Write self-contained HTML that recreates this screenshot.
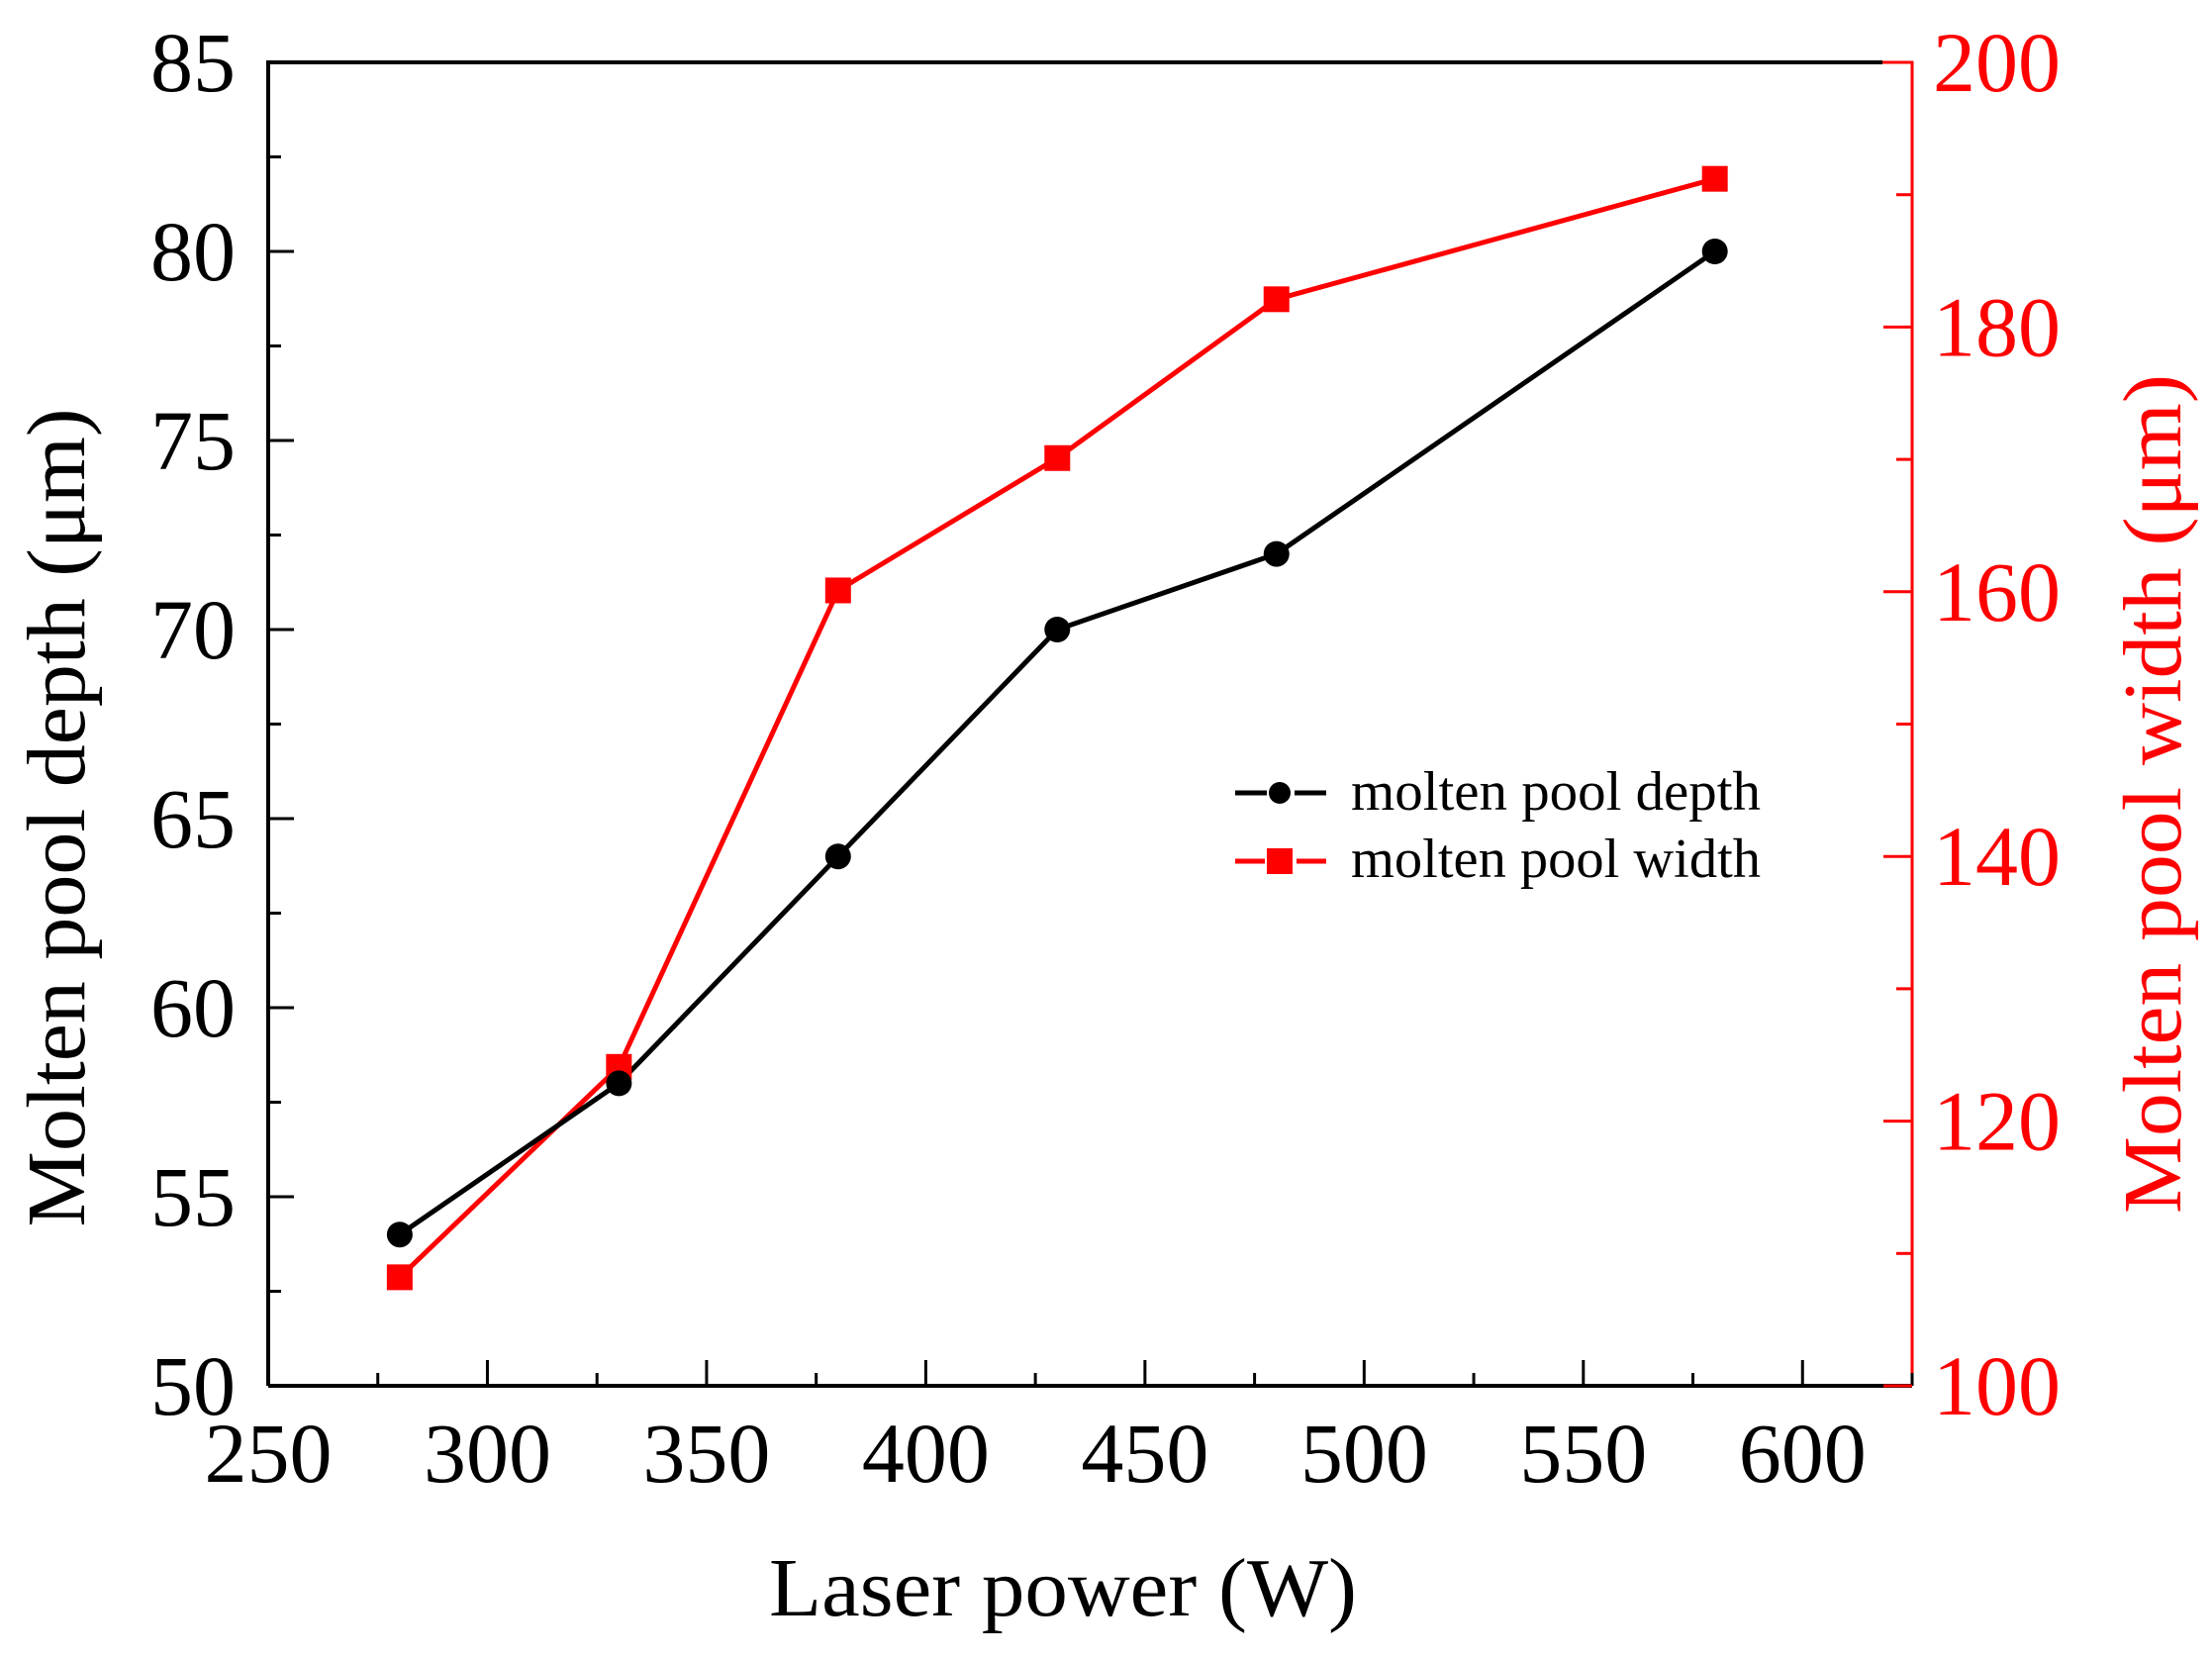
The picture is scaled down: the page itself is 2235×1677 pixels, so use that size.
<!DOCTYPE html>
<html><head><meta charset="utf-8"><style>
html,body{margin:0;padding:0;background:#fff}
svg{display:block}
text{font-family:"Liberation Serif",serif}
</style></head><body>
<svg id="chart" width="2235" height="1677" viewBox="0 0 2235 1677" xmlns="http://www.w3.org/2000/svg">
<g id="axes"></g><g id="series"></g>
<text x="1074" y="1632" font-size="84" text-anchor="middle" textLength="594" lengthAdjust="spacingAndGlyphs">Laser power (W)</text>
<text transform="translate(85,826) rotate(-90)" font-size="84" text-anchor="middle" textLength="827" lengthAdjust="spacingAndGlyphs">Molten pool depth (μm)</text>
<text transform="translate(2203,802) rotate(-90)" font-size="84" fill="#ff0000" text-anchor="middle" textLength="848" lengthAdjust="spacingAndGlyphs">Molten pool width (μm)</text>
<g>
<line x1="1248" y1="801" x2="1280" y2="801" stroke="#000" stroke-width="5"/>
<line x1="1308" y1="801" x2="1340" y2="801" stroke="#000" stroke-width="5"/>
<circle cx="1293" cy="801" r="11" fill="#000"/>
<text x="1365" y="818" font-size="56" textLength="414" lengthAdjust="spacingAndGlyphs">molten pool depth</text>
<line x1="1248" y1="870" x2="1278" y2="870" stroke="#ff0000" stroke-width="5"/>
<line x1="1310" y1="870" x2="1340" y2="870" stroke="#ff0000" stroke-width="5"/>
<rect x="1280" y="857" width="26" height="26" fill="#ff0000"/>
<text x="1365" y="886" font-size="56" textLength="414" lengthAdjust="spacingAndGlyphs">molten pool width</text>
</g>
</svg>
<script>
const power = [280, 330, 380, 430, 480, 580];
const depth = [54, 58, 64, 70, 72, 80];
const width = [108.2, 124.1, 160.1, 170.1, 182.1, 191.2];
const xTicks = [250, 300, 350, 400, 450, 500, 550, 600];
const yLeftTicks = [50, 55, 60, 65, 70, 75, 80, 85];
const yRightTicks = [100, 120, 140, 160, 180, 200];

const L=271, R=1932, T=63, B=1400;
const X0=250, X1=625;
const x = v => L + (v-X0)/(X1-X0)*(R-L);
const yl = v => B - (v-50)/35*(B-T);
const yr = v => B - (v-100)/100*(B-T);
const NS="http://www.w3.org/2000/svg";
const ax=document.getElementById('axes'), se=document.getElementById('series');
function mk(tag, attrs, parent){const e=document.createElementNS(NS,tag);for(const k in attrs)e.setAttribute(k,attrs[k]);parent.appendChild(e);return e;}

let e;
e=mk('path',{d:`M${L},${B}L${L},${T}L${R-30},${T}`,fill:'none',stroke:'#000','stroke-width':4},ax);


e=mk('line',{x1:L,y1:B,x2:R,y2:B,stroke:'#000','stroke-width':4},ax);


e=mk('path',{d:`M${R-30},${T}L${R},${T}L${R},${B}`,fill:'none',stroke:'#ff0000','stroke-width':3},ax);



for(let v=X0; v<=X1; v+=25){
  const major = v%50===0;
  e=mk('line',{x1:x(v),y1:B,x2:x(v),y2:B-(major?26:13),stroke:'#000','stroke-width':3},ax);
  
  
}
xTicks.forEach(v=>{
  e=mk('text',{x:x(v),y:1497,'font-size':86,'text-anchor':'middle'},ax);
  e.textContent=v;
  
  
});
for(let v=50; v<=85; v+=2.5){
  const major = v%5===0;
  e=mk('line',{x1:L,y1:yl(v),x2:L+(major?26:13),y2:yl(v),stroke:'#000','stroke-width':3},ax);
  
  
}
yLeftTicks.forEach(v=>{
  e=mk('text',{x:238,y:yl(v)+29,'font-size':86,'text-anchor':'end'},ax);
  e.textContent=v;
  
  
});
for(let v=100; v<=200; v+=10){
  const major = v%20===0;
  e=mk('line',{x1:R,y1:yr(v),x2:R-(major?29:16),y2:yr(v),stroke:'#ff0000','stroke-width':3},ax);
  
  
}
yRightTicks.forEach(v=>{
  e=mk('text',{x:1953,y:yr(v)+29,'font-size':86,fill:'#ff0000'},ax);
  e.textContent=v;
  
  
});

e=mk('polyline',{points:power.map((p,i)=>x(p)+','+yr(width[i])).join(' '),fill:'none',stroke:'#ff0000','stroke-width':5},se);


e=mk('polyline',{points:power.map((p,i)=>x(p)+','+yl(depth[i])).join(' '),fill:'none',stroke:'#000','stroke-width':5},se);


power.forEach((p,i)=>{
  e=mk('rect',{x:x(p)-13,y:yr(width[i])-13,width:26,height:26,fill:'#ff0000'},se);
  
  
  e=mk('circle',{cx:x(p),cy:yl(depth[i]),r:13,fill:'#000'},se);
  
  
});
</script>
</body></html>
